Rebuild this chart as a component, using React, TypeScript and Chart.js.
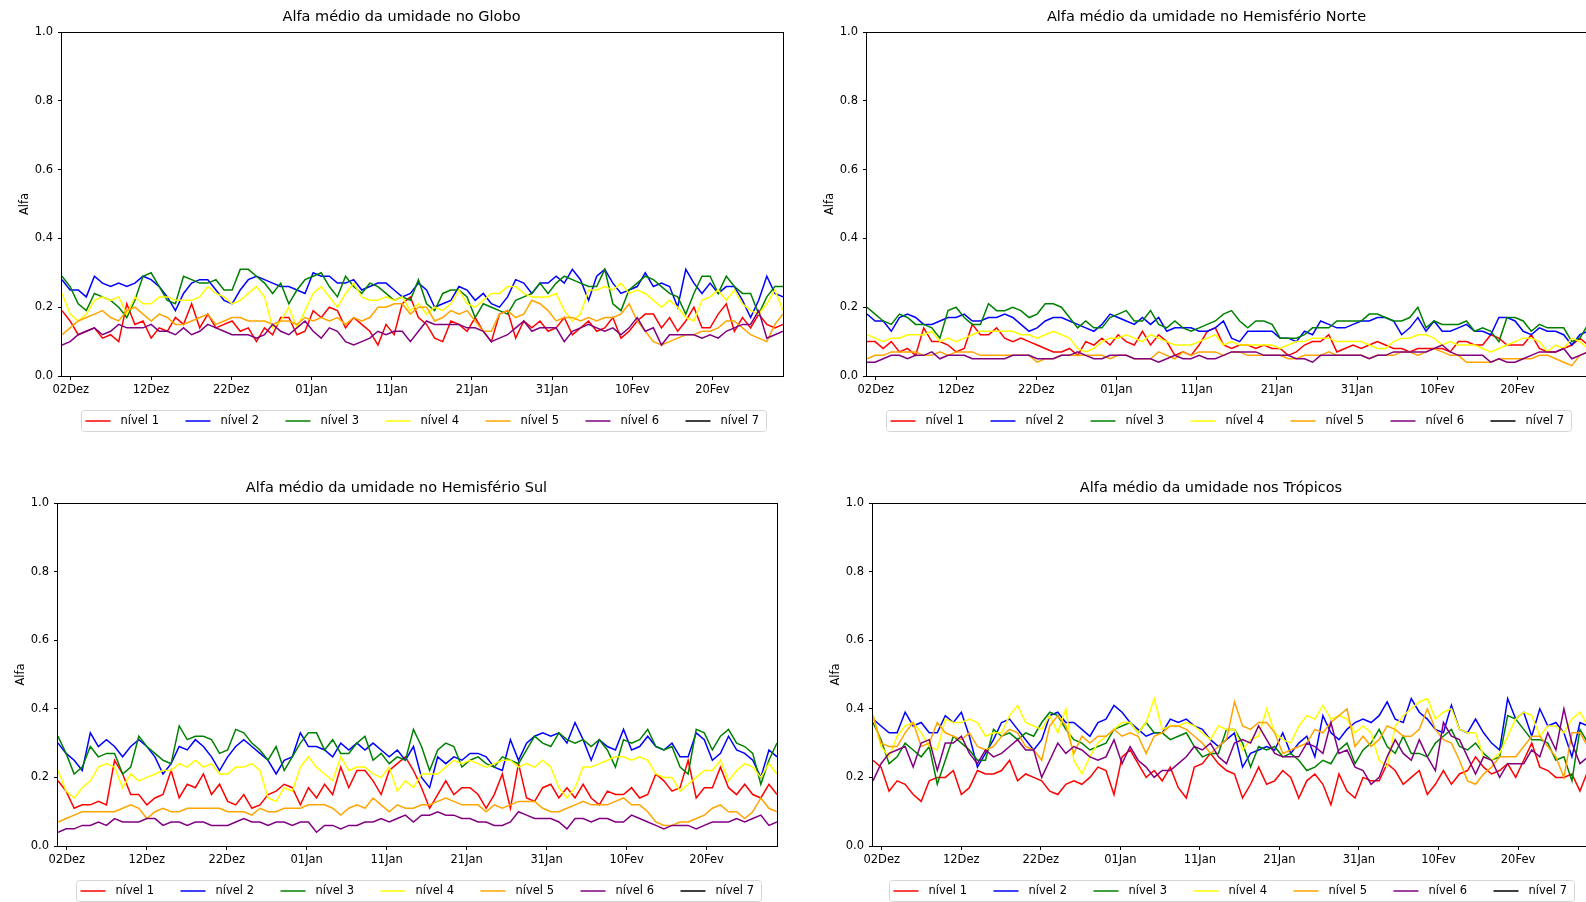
import React, { useEffect, useRef } from "react";
import { Chart, registerables } from "chart.js";

Chart.register(...registerables);

const FONT = "'DejaVu Sans', 'Liberation Sans', sans-serif";

// ---------- categories / ticks ----------
const levelLabels = ["nível 1", "nível 2", "nível 3", "nível 4", "nível 5", "nível 6", "nível 7"];
const levelColors = ["red", "blue", "green", "yellow", "orange", "purple", "black"];
const xTickDays = [0, 10, 20, 30, 40, 50, 60, 70, 80]; // days after 02Dez
const xTickLabels = ["02Dez", "12Dez", "22Dez", "01Jan", "11Jan", "21Jan", "31Jan", "10Fev", "20Fev"];
const X_START = -1.1; // start of record (days relative to 02Dez)
const X_END = 88.8; // end of record (28Fev)
const yTickStep = 0.2;

const panelTitles = [
  "Alfa médio da umidade no Globo",
  "Alfa médio da umidade no Hemisfério Norte",
  "Alfa médio da umidade no Hemisfério Sul",
  "Alfa médio da umidade nos Trópicos",
];

// ---------- Globo (daily values, 01Dez..28Fev) ----------
const globoN1 = [
  0.19, 0.16, 0.12, 0.13, 0.14, 0.11, 0.12, 0.10, 0.21, 0.15,
  0.16, 0.11, 0.14, 0.13, 0.17, 0.15, 0.21, 0.14, 0.18, 0.14,
  0.15, 0.16, 0.13, 0.14, 0.10, 0.14, 0.12, 0.17, 0.17, 0.12,
  0.13, 0.19, 0.17, 0.20, 0.19, 0.14, 0.17, 0.15, 0.13, 0.09,
  0.15, 0.12, 0.21, 0.23, 0.17, 0.15, 0.11, 0.10, 0.16, 0.15,
  0.13, 0.17, 0.13, 0.10, 0.18, 0.19, 0.11, 0.16, 0.14, 0.16,
  0.13, 0.14, 0.17, 0.12, 0.14, 0.16, 0.13, 0.14, 0.17, 0.11,
  0.13, 0.16, 0.18, 0.18, 0.14, 0.17, 0.13, 0.16, 0.20, 0.14,
  0.14, 0.18, 0.21, 0.13, 0.17, 0.14, 0.18, 0.15, 0.14, 0.15,
];
const globoN2 = [
  0.28, 0.25, 0.25, 0.23, 0.29, 0.27, 0.26, 0.27, 0.26, 0.27,
  0.29, 0.28, 0.26, 0.23, 0.19, 0.24, 0.27, 0.28, 0.28, 0.25,
  0.22, 0.21, 0.25, 0.28, 0.29, 0.28, 0.27, 0.26, 0.26, 0.25,
  0.24, 0.30, 0.29, 0.29, 0.27, 0.27, 0.28, 0.25, 0.26, 0.27,
  0.27, 0.25, 0.23, 0.24, 0.27, 0.25, 0.20, 0.21, 0.22, 0.26,
  0.25, 0.22, 0.24, 0.21, 0.20, 0.23, 0.28, 0.27, 0.24, 0.27,
  0.27, 0.29, 0.27, 0.31, 0.28, 0.22, 0.29, 0.31, 0.27, 0.24,
  0.25, 0.26, 0.30, 0.26, 0.27, 0.26, 0.20, 0.31, 0.27, 0.24,
  0.27, 0.24, 0.26, 0.26, 0.22, 0.17, 0.22, 0.29, 0.24, 0.23,
];
const globoN3 = [
  0.29, 0.26, 0.21, 0.19, 0.24, 0.23, 0.22, 0.20, 0.17, 0.22,
  0.29, 0.30, 0.26, 0.22, 0.21, 0.29, 0.28, 0.27, 0.27, 0.28,
  0.25, 0.25, 0.31, 0.31, 0.29, 0.27, 0.24, 0.27, 0.21, 0.25,
  0.28, 0.29, 0.30, 0.26, 0.23, 0.29, 0.26, 0.24, 0.27, 0.26,
  0.24, 0.22, 0.23, 0.22, 0.28, 0.21, 0.19, 0.24, 0.25, 0.25,
  0.23, 0.17, 0.21, 0.20, 0.19, 0.18, 0.22, 0.23, 0.24, 0.27,
  0.24, 0.27, 0.29, 0.28, 0.27, 0.26, 0.26, 0.31, 0.21, 0.19,
  0.25, 0.27, 0.29, 0.28, 0.26, 0.24, 0.23, 0.18, 0.24, 0.29,
  0.29, 0.24, 0.29, 0.26, 0.24, 0.24, 0.18, 0.23, 0.26, 0.26,
];
const globoN4 = [
  0.24, 0.18, 0.16, 0.18, 0.22, 0.23, 0.22, 0.23, 0.18, 0.23,
  0.21, 0.21, 0.23, 0.23, 0.22, 0.22, 0.22, 0.23, 0.26, 0.24,
  0.23, 0.21, 0.22, 0.24, 0.26, 0.23, 0.14, 0.16, 0.20, 0.14,
  0.19, 0.24, 0.26, 0.23, 0.20, 0.24, 0.27, 0.23, 0.22, 0.22,
  0.23, 0.22, 0.23, 0.19, 0.21, 0.18, 0.20, 0.19, 0.21, 0.25,
  0.21, 0.20, 0.22, 0.24, 0.24, 0.26, 0.26, 0.24, 0.23, 0.23,
  0.23, 0.24, 0.19, 0.16, 0.18, 0.25, 0.25, 0.26, 0.25, 0.27,
  0.24, 0.25, 0.24, 0.22, 0.20, 0.22, 0.20, 0.17, 0.16, 0.22,
  0.23, 0.25, 0.22, 0.25, 0.21, 0.19, 0.18, 0.21, 0.25, 0.19,
];
const globoN5 = [
  0.12, 0.14, 0.16, 0.17, 0.18, 0.19, 0.17, 0.16, 0.19, 0.20,
  0.18, 0.16, 0.18, 0.17, 0.15, 0.15, 0.16, 0.17, 0.18, 0.15,
  0.16, 0.17, 0.17, 0.16, 0.16, 0.16, 0.15, 0.16, 0.16, 0.15,
  0.17, 0.16, 0.17, 0.16, 0.17, 0.15, 0.17, 0.16, 0.17, 0.20,
  0.20, 0.21, 0.21, 0.18, 0.20, 0.20, 0.16, 0.17, 0.19, 0.18,
  0.19, 0.16, 0.13, 0.13, 0.18, 0.19, 0.17, 0.18, 0.22, 0.21,
  0.19, 0.16, 0.17, 0.17, 0.16, 0.17, 0.16, 0.17, 0.17, 0.18,
  0.21, 0.16, 0.13, 0.10, 0.09, 0.10, 0.11, 0.12, 0.12, 0.13,
  0.13, 0.14, 0.16, 0.16, 0.14, 0.12, 0.11, 0.10, 0.15, 0.18,
];
const globoN6 = [
  0.09, 0.10, 0.12, 0.13, 0.14, 0.12, 0.13, 0.15, 0.14, 0.14,
  0.14, 0.15, 0.13, 0.13, 0.12, 0.14, 0.12, 0.13, 0.15, 0.14,
  0.13, 0.12, 0.12, 0.12, 0.11, 0.12, 0.15, 0.13, 0.12, 0.14,
  0.16, 0.13, 0.11, 0.14, 0.13, 0.10, 0.09, 0.10, 0.11, 0.13,
  0.12, 0.13, 0.13, 0.10, 0.13, 0.16, 0.15, 0.15, 0.15, 0.15,
  0.14, 0.14, 0.13, 0.10, 0.11, 0.12, 0.14, 0.16, 0.13, 0.14,
  0.14, 0.14, 0.10, 0.13, 0.14, 0.15, 0.14, 0.13, 0.14, 0.12,
  0.14, 0.17, 0.13, 0.14, 0.09, 0.12, 0.12, 0.12, 0.12, 0.11,
  0.12, 0.11, 0.13, 0.14, 0.15, 0.15, 0.19, 0.11, 0.12, 0.13,
];
const globoN7: number[] = [];

// ---------- Hemisfério Norte ----------
const norteN1 = [
  0.10, 0.10, 0.08, 0.10, 0.07, 0.08, 0.06, 0.14, 0.10, 0.10,
  0.09, 0.07, 0.08, 0.15, 0.12, 0.12, 0.14, 0.11, 0.10, 0.11,
  0.10, 0.09, 0.08, 0.07, 0.07, 0.08, 0.06, 0.10, 0.09, 0.11,
  0.09, 0.12, 0.10, 0.09, 0.13, 0.09, 0.12, 0.10, 0.06, 0.07,
  0.06, 0.09, 0.13, 0.14, 0.09, 0.08, 0.09, 0.09, 0.08, 0.09,
  0.08, 0.08, 0.06, 0.07, 0.09, 0.10, 0.10, 0.12, 0.07, 0.08,
  0.09, 0.08, 0.09, 0.10, 0.09, 0.08, 0.08, 0.07, 0.08, 0.08,
  0.08, 0.08, 0.07, 0.10, 0.10, 0.09, 0.09, 0.12, 0.11, 0.09,
  0.09, 0.09, 0.12, 0.08, 0.07, 0.07, 0.08, 0.09, 0.11, 0.09,
];
const norteN2 = [
  0.18, 0.16, 0.16, 0.13, 0.17, 0.18, 0.17, 0.15, 0.15, 0.16,
  0.17, 0.17, 0.18, 0.16, 0.16, 0.17, 0.17, 0.18, 0.17, 0.15,
  0.13, 0.14, 0.16, 0.17, 0.17, 0.16, 0.15, 0.14, 0.13, 0.15,
  0.18, 0.17, 0.16, 0.15, 0.17, 0.15, 0.17, 0.13, 0.14, 0.14,
  0.14, 0.13, 0.13, 0.14, 0.16, 0.11, 0.10, 0.13, 0.13, 0.13,
  0.13, 0.11, 0.11, 0.10, 0.13, 0.12, 0.16, 0.15, 0.14, 0.14,
  0.15, 0.16, 0.16, 0.17, 0.17, 0.16, 0.12, 0.14, 0.17, 0.13,
  0.16, 0.13, 0.13, 0.14, 0.15, 0.13, 0.13, 0.12, 0.17, 0.17,
  0.16, 0.13, 0.12, 0.14, 0.13, 0.13, 0.12, 0.09, 0.12, 0.13,
];
const norteN3 = [
  0.20, 0.18, 0.16, 0.15, 0.18, 0.17, 0.15, 0.15, 0.14, 0.11,
  0.19, 0.20, 0.17, 0.15, 0.15, 0.21, 0.19, 0.19, 0.20, 0.19,
  0.17, 0.18, 0.21, 0.21, 0.20, 0.17, 0.14, 0.16, 0.14, 0.14,
  0.17, 0.18, 0.19, 0.16, 0.16, 0.19, 0.15, 0.14, 0.16, 0.14,
  0.13, 0.14, 0.15, 0.16, 0.18, 0.19, 0.16, 0.14, 0.16, 0.16,
  0.15, 0.11, 0.11, 0.11, 0.12, 0.14, 0.14, 0.14, 0.16, 0.16,
  0.16, 0.16, 0.18, 0.18, 0.17, 0.16, 0.16, 0.17, 0.20, 0.14,
  0.16, 0.15, 0.15, 0.15, 0.16, 0.13, 0.14, 0.13, 0.10, 0.17,
  0.17, 0.16, 0.13, 0.15, 0.14, 0.14, 0.14, 0.10, 0.11, 0.15,
];
const norteN4 = [
  0.12, 0.11, 0.10, 0.11, 0.11, 0.12, 0.12, 0.12, 0.13, 0.10,
  0.11, 0.10, 0.11, 0.12, 0.13, 0.13, 0.13, 0.13, 0.13, 0.12,
  0.12, 0.11, 0.12, 0.13, 0.12, 0.11, 0.08, 0.07, 0.08, 0.10,
  0.11, 0.11, 0.12, 0.11, 0.10, 0.12, 0.11, 0.10, 0.09, 0.09,
  0.09, 0.10, 0.11, 0.12, 0.09, 0.10, 0.09, 0.09, 0.09, 0.09,
  0.09, 0.08, 0.09, 0.10, 0.10, 0.11, 0.11, 0.11, 0.10, 0.10,
  0.10, 0.10, 0.09, 0.08, 0.08, 0.10, 0.11, 0.11, 0.12, 0.12,
  0.11, 0.09, 0.10, 0.09, 0.09, 0.09, 0.08, 0.07, 0.08, 0.09,
  0.10, 0.11, 0.11, 0.10, 0.07, 0.09, 0.08, 0.11, 0.10, 0.08,
];
const norteN5 = [
  0.05, 0.06, 0.06, 0.07, 0.07, 0.07, 0.07, 0.06, 0.06, 0.07,
  0.06, 0.07, 0.07, 0.07, 0.06, 0.06, 0.06, 0.06, 0.06, 0.06,
  0.06, 0.04, 0.05, 0.05, 0.06, 0.06, 0.06, 0.06, 0.06, 0.06,
  0.05, 0.06, 0.06, 0.05, 0.05, 0.05, 0.07, 0.06, 0.05, 0.07,
  0.06, 0.07, 0.07, 0.07, 0.06, 0.07, 0.07, 0.06, 0.06, 0.06,
  0.06, 0.06, 0.05, 0.05, 0.06, 0.06, 0.06, 0.07, 0.06, 0.06,
  0.06, 0.06, 0.05, 0.06, 0.06, 0.06, 0.07, 0.07, 0.06, 0.07,
  0.08, 0.07, 0.06, 0.06, 0.04, 0.04, 0.04, 0.04, 0.05, 0.05,
  0.05, 0.05, 0.05, 0.06, 0.06, 0.05, 0.04, 0.03, 0.06, 0.07,
];
const norteN6 = [
  0.04, 0.04, 0.05, 0.06, 0.06, 0.05, 0.06, 0.06, 0.07, 0.05,
  0.06, 0.06, 0.06, 0.05, 0.05, 0.05, 0.05, 0.05, 0.06, 0.06,
  0.06, 0.05, 0.05, 0.05, 0.06, 0.06, 0.07, 0.06, 0.05, 0.05,
  0.06, 0.06, 0.06, 0.05, 0.05, 0.05, 0.04, 0.05, 0.06, 0.05,
  0.05, 0.06, 0.05, 0.05, 0.06, 0.07, 0.07, 0.07, 0.07, 0.06,
  0.06, 0.06, 0.06, 0.05, 0.05, 0.04, 0.06, 0.06, 0.06, 0.06,
  0.06, 0.06, 0.05, 0.06, 0.06, 0.07, 0.07, 0.07, 0.07, 0.07,
  0.08, 0.09, 0.07, 0.06, 0.06, 0.06, 0.06, 0.04, 0.05, 0.04,
  0.04, 0.05, 0.06, 0.07, 0.07, 0.07, 0.08, 0.05, 0.06, 0.07,
];
const norteN7: number[] = [];

// ---------- Hemisfério Sul ----------
const sulN1 = [
  0.19, 0.16, 0.11, 0.12, 0.12, 0.13, 0.12, 0.25, 0.21, 0.15,
  0.15, 0.12, 0.14, 0.15, 0.22, 0.14, 0.18, 0.17, 0.21, 0.15,
  0.18, 0.13, 0.12, 0.15, 0.11, 0.12, 0.15, 0.16, 0.18, 0.17,
  0.12, 0.17, 0.14, 0.18, 0.15, 0.23, 0.17, 0.22, 0.22, 0.19,
  0.15, 0.22, 0.24, 0.26, 0.22, 0.17, 0.11, 0.15, 0.19, 0.15,
  0.17, 0.17, 0.15, 0.11, 0.15, 0.21, 0.11, 0.24, 0.14, 0.13,
  0.17, 0.18, 0.14, 0.17, 0.14, 0.18, 0.14, 0.12, 0.16, 0.15,
  0.15, 0.17, 0.14, 0.15, 0.21, 0.19, 0.16, 0.17, 0.25, 0.14,
  0.17, 0.17, 0.23, 0.17, 0.15, 0.18, 0.15, 0.14, 0.18, 0.15,
];
const sulN2 = [
  0.30, 0.27, 0.25, 0.22, 0.33, 0.29, 0.31, 0.29, 0.26, 0.29,
  0.31, 0.29, 0.26, 0.21, 0.24, 0.29, 0.28, 0.31, 0.29, 0.26,
  0.22, 0.26, 0.29, 0.31, 0.29, 0.27, 0.25, 0.21, 0.25, 0.26,
  0.33, 0.29, 0.29, 0.28, 0.26, 0.30, 0.28, 0.30, 0.28, 0.30,
  0.28, 0.26, 0.28, 0.25, 0.29, 0.20, 0.17, 0.26, 0.24, 0.26,
  0.25, 0.27, 0.27, 0.26, 0.23, 0.22, 0.31, 0.25, 0.30, 0.32,
  0.33, 0.32, 0.33, 0.30, 0.36, 0.31, 0.25, 0.31, 0.29, 0.28,
  0.34, 0.28, 0.29, 0.32, 0.29, 0.28, 0.30, 0.26, 0.26, 0.33,
  0.31, 0.25, 0.27, 0.32, 0.28, 0.27, 0.25, 0.20, 0.28, 0.26,
];
const sulN3 = [
  0.32, 0.27, 0.21, 0.23, 0.29, 0.26, 0.27, 0.27, 0.21, 0.23,
  0.32, 0.29, 0.27, 0.25, 0.24, 0.35, 0.31, 0.32, 0.32, 0.31,
  0.27, 0.28, 0.34, 0.33, 0.30, 0.28, 0.25, 0.29, 0.22, 0.26,
  0.30, 0.33, 0.33, 0.28, 0.31, 0.27, 0.27, 0.30, 0.32, 0.25,
  0.27, 0.24, 0.26, 0.25, 0.34, 0.29, 0.22, 0.28, 0.30, 0.29,
  0.23, 0.25, 0.26, 0.24, 0.23, 0.26, 0.25, 0.24, 0.28, 0.32,
  0.30, 0.29, 0.33, 0.31, 0.30, 0.31, 0.29, 0.31, 0.28, 0.23,
  0.31, 0.30, 0.31, 0.34, 0.29, 0.28, 0.29, 0.23, 0.21, 0.34,
  0.33, 0.28, 0.32, 0.34, 0.30, 0.29, 0.27, 0.18, 0.25, 0.30,
];
const sulN4 = [
  0.22, 0.16, 0.14, 0.17, 0.19, 0.23, 0.24, 0.23, 0.17, 0.21,
  0.19, 0.20, 0.21, 0.22, 0.22, 0.24, 0.23, 0.25, 0.23, 0.24,
  0.21, 0.21, 0.23, 0.23, 0.24, 0.22, 0.14, 0.13, 0.17, 0.16,
  0.23, 0.26, 0.23, 0.21, 0.19, 0.26, 0.22, 0.23, 0.23, 0.21,
  0.20, 0.23, 0.16, 0.19, 0.17, 0.21, 0.21, 0.21, 0.23, 0.25,
  0.24, 0.25, 0.24, 0.23, 0.24, 0.25, 0.25, 0.23, 0.24, 0.23,
  0.25, 0.23, 0.17, 0.14, 0.17, 0.23, 0.23, 0.24, 0.25, 0.26,
  0.26, 0.25, 0.26, 0.25, 0.21, 0.20, 0.20, 0.16, 0.18, 0.20,
  0.22, 0.22, 0.25, 0.19, 0.22, 0.24, 0.23, 0.20, 0.24, 0.21,
];
const sulN5 = [
  0.07, 0.08, 0.09, 0.10, 0.10, 0.10, 0.10, 0.10, 0.11, 0.12,
  0.11, 0.08, 0.10, 0.11, 0.10, 0.10, 0.11, 0.11, 0.11, 0.11,
  0.11, 0.10, 0.10, 0.10, 0.09, 0.11, 0.10, 0.10, 0.11, 0.11,
  0.11, 0.12, 0.12, 0.12, 0.11, 0.09, 0.11, 0.12, 0.11, 0.14,
  0.12, 0.10, 0.12, 0.11, 0.11, 0.12, 0.12, 0.13, 0.14, 0.13,
  0.12, 0.12, 0.12, 0.10, 0.12, 0.11, 0.12, 0.13, 0.13, 0.13,
  0.11, 0.10, 0.10, 0.11, 0.12, 0.13, 0.12, 0.12, 0.12, 0.13,
  0.14, 0.12, 0.12, 0.10, 0.07, 0.06, 0.06, 0.07, 0.07, 0.08,
  0.09, 0.11, 0.12, 0.10, 0.10, 0.08, 0.10, 0.14, 0.11, 0.10,
];
const sulN6 = [
  0.04, 0.05, 0.05, 0.06, 0.06, 0.07, 0.06, 0.08, 0.07, 0.07,
  0.07, 0.08, 0.08, 0.06, 0.07, 0.07, 0.06, 0.07, 0.07, 0.06,
  0.06, 0.06, 0.07, 0.08, 0.07, 0.07, 0.06, 0.07, 0.07, 0.06,
  0.07, 0.07, 0.04, 0.06, 0.06, 0.05, 0.06, 0.06, 0.07, 0.07,
  0.08, 0.07, 0.08, 0.09, 0.07, 0.09, 0.09, 0.10, 0.09, 0.09,
  0.08, 0.08, 0.07, 0.07, 0.06, 0.06, 0.07, 0.10, 0.09, 0.08,
  0.08, 0.08, 0.07, 0.05, 0.08, 0.08, 0.07, 0.08, 0.08, 0.07,
  0.07, 0.09, 0.08, 0.07, 0.06, 0.05, 0.06, 0.06, 0.06, 0.05,
  0.06, 0.07, 0.07, 0.07, 0.08, 0.07, 0.08, 0.09, 0.06, 0.07,
];
const sulN7: number[] = [];

// ---------- Trópicos ----------
const tropN1 = [
  0.25, 0.23, 0.16, 0.19, 0.18, 0.15, 0.13, 0.19, 0.20, 0.20,
  0.22, 0.15, 0.17, 0.22, 0.21, 0.21, 0.22, 0.25, 0.19, 0.21,
  0.20, 0.19, 0.16, 0.15, 0.18, 0.19, 0.18, 0.20, 0.23, 0.22,
  0.15, 0.26, 0.28, 0.24, 0.20, 0.22, 0.19, 0.23, 0.17, 0.14,
  0.23, 0.24, 0.27, 0.24, 0.22, 0.21, 0.14, 0.18, 0.23, 0.18,
  0.19, 0.22, 0.20, 0.14, 0.19, 0.21, 0.18, 0.12, 0.21, 0.16,
  0.14, 0.20, 0.19, 0.19, 0.24, 0.22, 0.18, 0.20, 0.22, 0.15,
  0.18, 0.22, 0.18, 0.21, 0.22, 0.26, 0.23, 0.21, 0.22, 0.24,
  0.20, 0.25, 0.30, 0.23, 0.22, 0.20, 0.20, 0.21, 0.16, 0.22,
];
const tropN2 = [
  0.37, 0.35, 0.33, 0.33, 0.39, 0.35, 0.36, 0.33, 0.33, 0.38,
  0.36, 0.39, 0.32, 0.23, 0.27, 0.31, 0.36, 0.37, 0.34, 0.31,
  0.28, 0.31, 0.38, 0.39, 0.36, 0.36, 0.34, 0.32, 0.36, 0.37,
  0.41, 0.39, 0.36, 0.34, 0.32, 0.33, 0.33, 0.37, 0.36, 0.37,
  0.35, 0.34, 0.31, 0.29, 0.31, 0.33, 0.23, 0.27, 0.28, 0.29,
  0.28, 0.33, 0.27, 0.30, 0.32, 0.26, 0.38, 0.33, 0.31, 0.34,
  0.36, 0.37, 0.36, 0.38, 0.42, 0.37, 0.36, 0.43, 0.39, 0.37,
  0.34, 0.33, 0.41, 0.34, 0.33, 0.37, 0.33, 0.30, 0.28, 0.43,
  0.37, 0.39, 0.32, 0.40, 0.35, 0.36, 0.33, 0.26, 0.36, 0.35,
];
const tropN3 = [
  0.36, 0.31, 0.24, 0.26, 0.30, 0.28, 0.26, 0.29, 0.18, 0.25,
  0.32, 0.30, 0.28, 0.25, 0.25, 0.34, 0.32, 0.33, 0.31, 0.33,
  0.32, 0.36, 0.39, 0.38, 0.34, 0.31, 0.30, 0.28, 0.29, 0.30,
  0.34, 0.35, 0.36, 0.33, 0.36, 0.33, 0.33, 0.31, 0.32, 0.33,
  0.29, 0.26, 0.27, 0.27, 0.34, 0.34, 0.30, 0.23, 0.29, 0.28,
  0.29, 0.26, 0.27, 0.25, 0.22, 0.23, 0.25, 0.24, 0.28, 0.30,
  0.24, 0.28, 0.30, 0.34, 0.29, 0.27, 0.32, 0.27, 0.27, 0.26,
  0.30, 0.32, 0.34, 0.29, 0.28, 0.30, 0.27, 0.25, 0.26, 0.38,
  0.37, 0.34, 0.31, 0.31, 0.30, 0.25, 0.26, 0.19, 0.34, 0.30,
];
const tropN4 = [
  0.38, 0.29, 0.26, 0.32, 0.35, 0.36, 0.33, 0.29, 0.28, 0.37,
  0.36, 0.36, 0.37, 0.36, 0.32, 0.33, 0.33, 0.38, 0.41, 0.36,
  0.35, 0.34, 0.38, 0.33, 0.40, 0.25, 0.21, 0.26, 0.30, 0.32,
  0.34, 0.36, 0.36, 0.33, 0.36, 0.43, 0.34, 0.35, 0.35, 0.36,
  0.35, 0.33, 0.31, 0.35, 0.34, 0.34, 0.28, 0.31, 0.32, 0.40,
  0.33, 0.31, 0.30, 0.35, 0.38, 0.37, 0.41, 0.37, 0.38, 0.37,
  0.33, 0.35, 0.33, 0.25, 0.23, 0.35, 0.38, 0.40, 0.42, 0.43,
  0.37, 0.39, 0.40, 0.34, 0.33, 0.33, 0.26, 0.25, 0.27, 0.32,
  0.37, 0.39, 0.38, 0.32, 0.35, 0.35, 0.33, 0.37, 0.39, 0.35,
];
const tropN5 = [
  0.38, 0.30, 0.29, 0.29, 0.33, 0.36, 0.29, 0.30, 0.36, 0.33,
  0.32, 0.31, 0.33, 0.29, 0.28, 0.29, 0.32, 0.34, 0.33, 0.29,
  0.28, 0.25, 0.35, 0.38, 0.35, 0.27, 0.32, 0.30, 0.32, 0.32,
  0.34, 0.32, 0.33, 0.32, 0.27, 0.32, 0.33, 0.35, 0.35, 0.34,
  0.32, 0.30, 0.27, 0.29, 0.31, 0.42, 0.35, 0.34, 0.36, 0.36,
  0.33, 0.27, 0.28, 0.29, 0.30, 0.34, 0.33, 0.36, 0.38, 0.40,
  0.29, 0.32, 0.29, 0.31, 0.35, 0.34, 0.32, 0.32, 0.34, 0.40,
  0.34, 0.31, 0.30, 0.25, 0.19, 0.18, 0.21, 0.23, 0.26, 0.26,
  0.26, 0.29, 0.32, 0.32, 0.29, 0.26, 0.20, 0.33, 0.33, 0.29,
];
const tropN6 = [
  0.19, 0.24, 0.27, 0.28, 0.29, 0.23, 0.30, 0.31, 0.22, 0.30,
  0.30, 0.32, 0.27, 0.24, 0.28, 0.26, 0.27, 0.29, 0.31, 0.28,
  0.28, 0.20, 0.25, 0.30, 0.27, 0.29, 0.28, 0.26, 0.25, 0.26,
  0.31, 0.24, 0.29, 0.25, 0.23, 0.20, 0.22, 0.22, 0.24, 0.26,
  0.29, 0.28, 0.30, 0.26, 0.24, 0.30, 0.31, 0.30, 0.35, 0.31,
  0.27, 0.26, 0.26, 0.26, 0.30, 0.29, 0.27, 0.36, 0.27, 0.28,
  0.23, 0.22, 0.18, 0.20, 0.26, 0.31, 0.27, 0.25, 0.31, 0.26,
  0.22, 0.36, 0.32, 0.31, 0.26, 0.21, 0.26, 0.25, 0.20, 0.24,
  0.24, 0.24, 0.28, 0.26, 0.33, 0.28, 0.40, 0.30, 0.24, 0.26,
];
const tropN7: number[] = [];

const panelSeries = [
  [globoN1, globoN2, globoN3, globoN4, globoN5, globoN6, globoN7],
  [norteN1, norteN2, norteN3, norteN4, norteN5, norteN6, norteN7],
  [sulN1, sulN2, sulN3, sulN4, sulN5, sulN6, sulN7],
  [tropN1, tropN2, tropN3, tropN4, tropN5, tropN6, tropN7],
];

// ---------- layout (page pixels) ----------
const panelLayout = [
  { left: 62, top: 32, right: 783, bottom: 376, titleX: 401.5 },
  { left: 867, top: 32, right: 1588, bottom: 376, titleX: 1206.5 },
  { left: 58, top: 503, right: 777, bottom: 846, titleX: 396.5 },
  { left: 873, top: 503, right: 1588, bottom: 846, titleX: 1211 },
];

const PAD_L = 62; // area left - canvas left
const PAD_T = 32;
const PAD_R = 10;
const PAD_B = 58; // below area
const Y_AXIS_W = 50;
const X_AXIS_H = 24;
const LINE_W = 1.5;
const TITLE_SIZE = 14.5;
const TEXT_SIZE = 11.5;

const mplPlugin = {
  id: "mpl",
  afterDraw(chart: any, _args: any, opts: any) {
    const { ctx, chartArea: a } = chart;
    ctx.save();
    // spines
    ctx.strokeStyle = "#000";
    ctx.lineWidth = 1;
    const l = Math.round(a.left) - 0.5;
    const t = Math.round(a.top) + 0.5;
    const r = Math.round(a.right) + 0.5;
    const b = Math.round(a.bottom) + 0.5;
    ctx.strokeRect(l, t, r - l, b - t);

    // title
    ctx.fillStyle = "#000";
    ctx.font = `${TITLE_SIZE}px ${FONT}`;
    ctx.textAlign = "center";
    ctx.textBaseline = "alphabetic";
    ctx.fillText(opts.title, opts.titleX, a.top - 11);

    // legend box
    const datasets = chart.data.datasets;
    const bw = 685;
    const bh = 21;
    const cx = (a.left + a.right) / 2 + 1;
    const bx = Math.round(cx - bw / 2) + 0.5;
    const by = Math.round(a.bottom + 34) + 0.5;
    const rad = 3;
    ctx.beginPath();
    ctx.moveTo(bx + rad, by);
    ctx.lineTo(bx + bw - rad, by);
    ctx.arcTo(bx + bw, by, bx + bw, by + rad, rad);
    ctx.lineTo(bx + bw, by + bh - rad);
    ctx.arcTo(bx + bw, by + bh, bx + bw - rad, by + bh, rad);
    ctx.lineTo(bx + rad, by + bh);
    ctx.arcTo(bx, by + bh, bx, by + bh - rad, rad);
    ctx.lineTo(bx, by + rad);
    ctx.arcTo(bx, by, bx + rad, by, rad);
    ctx.closePath();
    ctx.fillStyle = "rgba(255,255,255,0.8)";
    ctx.fill();
    ctx.strokeStyle = "#d6d6d6";
    ctx.stroke();

    const ym = by + bh / 2;
    ctx.font = `${TEXT_SIZE}px ${FONT}`;
    ctx.textAlign = "left";
    ctx.textBaseline = "middle";
    datasets.forEach((ds: any, k: number) => {
      const x0 = bx + 4 + 100 * k;
      ctx.strokeStyle = ds.borderColor;
      ctx.lineWidth = LINE_W;
      ctx.beginPath();
      ctx.moveTo(x0, ym);
      ctx.lineTo(x0 + 25, ym);
      ctx.stroke();
      ctx.fillStyle = "#000";
      ctx.fillText(ds.label, x0 + 35, ym + 0.5);
    });
    ctx.restore();
  },
};

function Panel({ index }: { index: number }) {
  const ref = useRef<HTMLCanvasElement>(null);
  const lay = panelLayout[index];
  const cLeft = lay.left - PAD_L;
  const cTop = lay.top - PAD_T;
  const w = lay.right - lay.left + PAD_L + PAD_R;
  const h = lay.bottom - lay.top + PAD_T + PAD_B;

  useEffect(() => {
    if (!ref.current) return;
    const series = panelSeries[index];
    const datasets = series.map((vals, k) => {
      const step = vals.length > 1 ? (X_END - X_START) / (vals.length - 1) : 0;
      return {
        label: levelLabels[k],
        data: vals.map((v, i) => ({ x: X_START + i * step, y: v })),
        borderColor: levelColors[k],
        backgroundColor: levelColors[k],
        borderWidth: LINE_W,
        pointRadius: 0,
        tension: 0,
        fill: false,
        order: levelLabels.length - k,
      };
    });
    const tickFont = { family: FONT, size: TEXT_SIZE };
    const chart = new Chart(ref.current, {
      type: "line",
      data: { datasets },
      options: {
        responsive: false,
        maintainAspectRatio: false,
        animation: false,
        devicePixelRatio: 1,
        events: [],
        layout: { padding: { left: PAD_L - Y_AXIS_W, top: PAD_T, right: PAD_R, bottom: PAD_B - X_AXIS_H } },
        plugins: {
          legend: { display: false },
          title: { display: false },
          tooltip: { enabled: false },
          mpl: { title: panelTitles[index], titleX: lay.titleX - cLeft },
        } as any,
        scales: {
          x: {
            type: "linear",
            min: X_START,
            max: X_END,
            border: { display: false },
            grid: { display: true, drawOnChartArea: false, drawTicks: true, tickLength: 4, color: "#000", lineWidth: 1 },
            afterBuildTicks: (s: any) => {
              s.ticks = xTickDays.map((v) => ({ value: v }));
            },
            afterFit: (s: any) => {
              s.height = X_AXIS_H;
            },
            ticks: {
              autoSkip: false,
              maxRotation: 0,
              padding: 3.2,
              color: "#000",
              font: tickFont,
              callback: (_v: any, i: number) => xTickLabels[i],
            },
          },
          y: {
            type: "linear",
            min: 0,
            max: 1,
            border: { display: false },
            grid: { display: true, drawOnChartArea: false, drawTicks: true, tickLength: 4, color: "#000", lineWidth: 1 },
            afterFit: (s: any) => {
              s.width = Y_AXIS_W;
            },
            title: {
              display: true,
              text: "Alfa",
              color: "#000",
              font: tickFont,
              padding: { top: 5.8, bottom: 0 },
            },
            ticks: {
              stepSize: yTickStep,
              padding: 5,
              color: "#000",
              font: tickFont,
              callback: (v: any) => Number(v).toFixed(1),
            },
          },
        },
      },
      plugins: [mplPlugin],
    } as any);
    return () => chart.destroy();
  }, [index]);

  return (
    <canvas
      ref={ref}
      width={w}
      height={h}
      style={{ position: "absolute", left: cLeft, top: cTop, width: w, height: h }}
    />
  );
}

export default function App() {
  return (
    <div
      style={{
        position: "fixed",
        left: 0,
        top: 0,
        width: 1586,
        height: 902,
        overflow: "hidden",
        background: "#fff",
      }}
    >
      {panelLayout.map((_, i) => (
        <Panel key={i} index={i} />
      ))}
    </div>
  );
}
